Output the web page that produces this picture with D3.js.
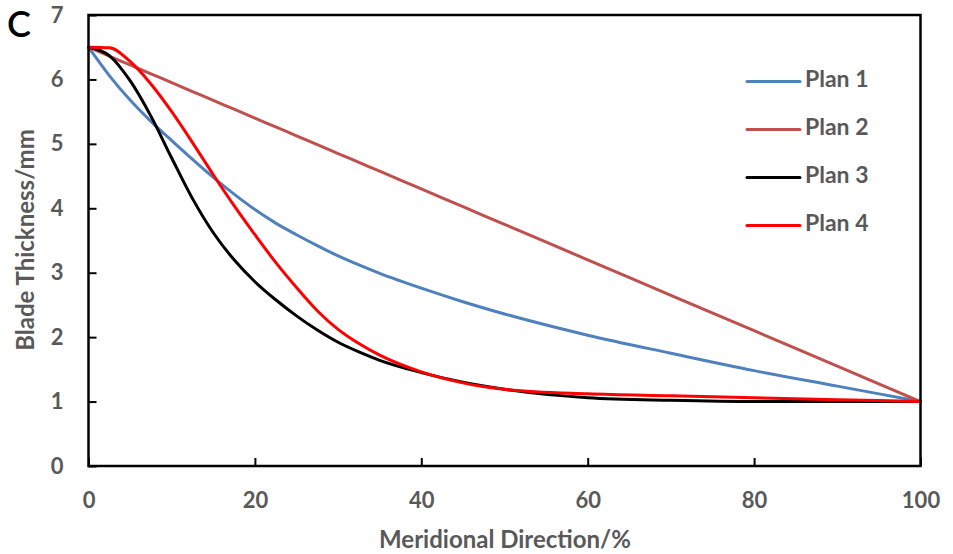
<!DOCTYPE html>
<html>
<head>
<meta charset="utf-8">
<script src="https://cdn.jsdelivr.net/npm/d3@7/dist/d3.min.js"></script>
<style>
  html, body { margin: 0; padding: 0; background: #fff; }
  svg { display: block; font-family: Lato, "Open Sans", sans-serif; }
</style>
</head>
<body>
<svg id="chart" width="953" height="554"></svg>
<script>
// Meridional position (%) of each sampled point
const meridional = [0, 2.5, 5, 7.5, 10, 12.5, 15, 17.5, 20, 22.5, 25, 27.5, 30, 32.5, 35, 40, 45, 50, 60, 70, 80, 90, 100];

// Blade thickness (mm) for each plan
const plan1 = [6.5, 6.06, 5.68, 5.35, 5.05, 4.76, 4.48, 4.22, 3.98, 3.77, 3.59, 3.42, 3.26, 3.12, 2.99, 2.76, 2.55, 2.36, 2.03, 1.75, 1.48, 1.24, 1.0];
const plan2 = [6.5, 6.3625, 6.225, 6.0875, 5.95, 5.8125, 5.675, 5.5375, 5.4, 5.2625, 5.125, 4.9875, 4.85, 4.7125, 4.575, 4.3, 4.025, 3.75, 3.2, 2.65, 2.1, 1.55, 1.0];
const plan3 = [6.5, 6.37, 5.98, 5.43, 4.78, 4.15, 3.62, 3.20, 2.86, 2.58, 2.33, 2.11, 1.92, 1.77, 1.64, 1.45, 1.30, 1.19, 1.06, 1.02, 1.0, 1.0, 1.0];
const plan4 = [6.5, 6.49, 6.28, 5.93, 5.50, 5.02, 4.52, 4.04, 3.59, 3.16, 2.77, 2.41, 2.12, 1.90, 1.72, 1.46, 1.29, 1.19, 1.12, 1.09, 1.06, 1.03, 1.0];

const seriesNames = ["Plan 1", "Plan 2", "Plan 3", "Plan 4"];
const seriesColors = ["#4F81BD", "#C0504D", "#000000", "#FF0000"];
const seriesValues = [plan1, plan2, plan3, plan4];

const xTicks = [0, 20, 40, 60, 80, 100];
const yTicks = [0, 1, 2, 3, 4, 5, 6, 7];

const xTitle = "Meridional Direction/%";
const yTitle = "Blade Thickness/mm";
const panelLabel = "C";

const svg = d3.select("#chart");
const plot = { left: 88.5, right: 920.5, top: 15, bottom: 466 };

const x = d3.scaleLinear().domain([0, 100]).range([plot.left, plot.right]);
const y = d3.scaleLinear().domain([0, 7]).range([plot.bottom, plot.top]);

const textGray = "#595959";

// Curves
const line = d3.line()
  .x(d => x(d[0]))
  .y(d => y(d[1]))
  .curve(d3.curveMonotoneX);

const curves = svg.append("g");
seriesValues.forEach((vals, i) => {
  curves.append("path")
    .datum(meridional.map((m, j) => [m, vals[j]]))
    .attr("fill", "none")
    .attr("stroke", seriesColors[i])
    .attr("stroke-width", 3)
    .attr("stroke-linejoin", "round")
    .attr("stroke-linecap", "round")
    .attr("d", line);
});

// Frame around the plot area
svg.append("rect")
  .attr("x", plot.left)
  .attr("y", plot.top)
  .attr("width", plot.right - plot.left)
  .attr("height", plot.bottom - plot.top)
  .attr("fill", "none")
  .attr("stroke", "#000")
  .attr("stroke-width", 2.5);

// Axes with inward ticks
const xAxis = svg.append("g")
  .attr("transform", `translate(0,${plot.bottom})`)
  .call(d3.axisBottom(x).tickValues(xTicks).tickFormat(d3.format("d"))
    .tickSizeInner(-8).tickSizeOuter(0));
const yAxis = svg.append("g")
  .attr("transform", `translate(${plot.left},0)`)
  .call(d3.axisLeft(y).tickValues(yTicks).tickFormat(d3.format("d"))
    .tickSizeInner(-8).tickSizeOuter(0));

[xAxis, yAxis].forEach(ax => {
  ax.select(".domain").remove();
  ax.selectAll(".tick line").attr("stroke", "#000").attr("stroke-width", 2);
  ax.selectAll(".tick text")
    .attr("fill", textGray)
    .style("font-family", "Lato, sans-serif")
    .style("font-weight", "bold")
    .style("font-size", "22px");
});
xAxis.selectAll(".tick text").attr("dy", "0.71em").attr("y", 26);
yAxis.selectAll(".tick text").attr("x", -25);

// Axis titles
svg.append("text")
  .attr("x", 505)
  .attr("y", 542)
  .attr("text-anchor", "middle")
  .attr("dominant-baseline", "middle")
  .attr("fill", textGray)
  .style("font-weight", "bold")
  .style("font-size", "24px")
  .text(xTitle);

svg.append("text")
  .attr("transform", `translate(28,240) rotate(-90)`)
  .attr("text-anchor", "middle")
  .attr("dominant-baseline", "middle")
  .attr("fill", textGray)
  .style("font-weight", "bold")
  .style("font-size", "24px")
  .text(yTitle);

// Panel label
svg.append("text")
  .attr("x", 7)
  .attr("y", 37)
  .attr("fill", "#000")
  .style("font-size", "36px")
  .style("font-weight", "600")
  .text(panelLabel);

// Legend
const legendY = d3.scalePoint().domain(seriesNames).range([81.5, 225.5]);
const legend = svg.append("g");
seriesNames.forEach((name, i) => {
  const ly = legendY(name);
  legend.append("line")
    .attr("x1", 747).attr("x2", 800)
    .attr("y1", ly).attr("y2", ly)
    .attr("stroke", seriesColors[i])
    .attr("stroke-width", 3)
    .attr("stroke-linecap", "round");
  legend.append("text")
    .attr("x", 805)
    .attr("y", ly)
    .attr("dominant-baseline", "middle")
    .attr("fill", textGray)
    .style("font-weight", "bold")
    .style("font-size", "23px")
    .text(name);
});
</script>
</body>
</html>
